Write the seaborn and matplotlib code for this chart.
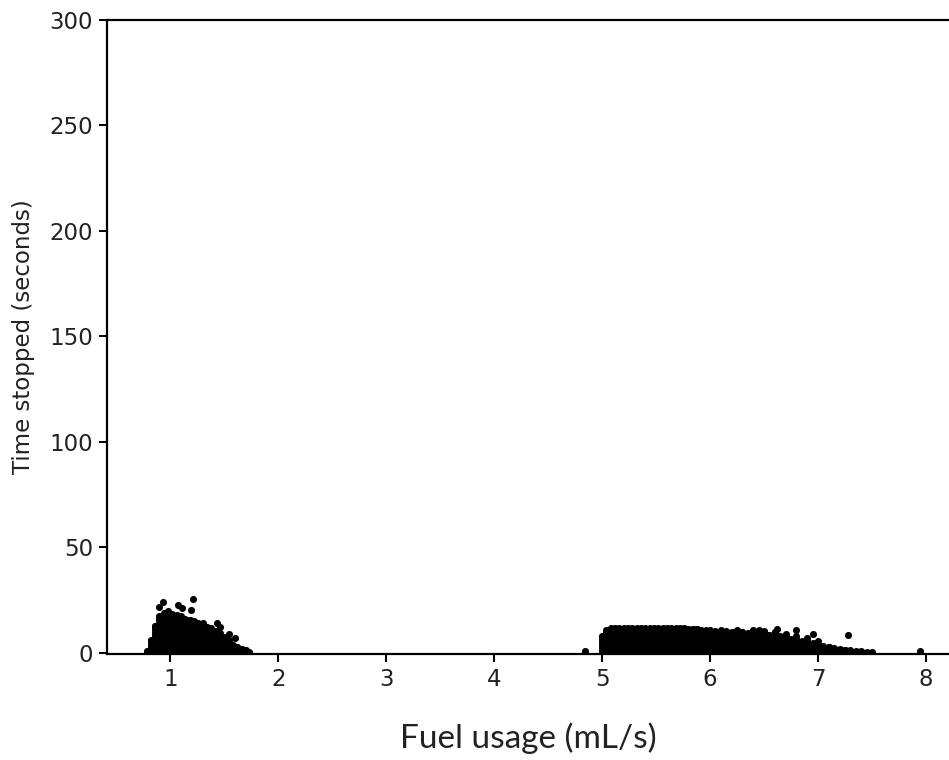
import numpy as np
import pandas as pd
import matplotlib
matplotlib.use("Agg")
import matplotlib.pyplot as plt
import seaborn as sns

# Column envelopes (x position, highest point in that column)
c1_x = [0.78, 0.82, 0.86, 0.90, 0.94, 0.98, 1.02, 1.06, 1.10, 1.14, 1.18, 1.22,
        1.26, 1.30, 1.34, 1.38, 1.42, 1.46, 1.50, 1.54, 1.58, 1.62, 1.66, 1.70, 1.73]
c1_top = [1, 6, 13, 17.5, 19, 20, 18.5, 18, 17.5, 16, 15.5, 15,
          14, 14, 12.5, 12, 10.5, 9.5, 7.5, 6, 4, 3, 2, 1.2, 0.5]

c2_x = [5.00, 5.04, 5.08, 5.12, 5.16, 5.20, 5.24, 5.28, 5.32, 5.36, 5.40, 5.44,
        5.48, 5.52, 5.56, 5.60, 5.64, 5.68, 5.72, 5.76, 5.80, 5.84, 5.88, 5.92,
        5.96, 6.00, 6.05, 6.10, 6.15, 6.20, 6.25, 6.30, 6.35, 6.40, 6.45, 6.50,
        6.55, 6.60, 6.65, 6.70, 6.75, 6.80, 6.85, 6.90, 6.95, 7.00, 7.05, 7.10,
        7.15, 7.20, 7.25, 7.30, 7.35, 7.40, 7.45, 7.50]
c2_top = [8, 11, 12, 12, 12, 12, 12, 12, 12, 12, 12, 12,
          12, 12, 12, 12, 12, 12, 12, 12, 11.5, 11.5, 11.5, 11,
          11, 11, 10.5, 11, 10.5, 10, 11, 10, 9.5, 11, 9.5, 10.5,
          8.5, 10, 8, 9, 6.5, 8, 5.5, 7, 4.5, 5.5, 3.5, 3,
          2.5, 2, 1.5, 1.2, 1, 0.8, 0.6, 0.5]

# Scattered individual points
out_x = [0.90, 0.935, 1.07, 1.21, 1.19, 1.11, 1.43, 1.46, 1.54, 1.60, 4.84, 7.28, 7.94, 6.80, 6.95, 6.62, 6.45]
out_y = [22, 24, 22.5, 25.5, 20.5, 21.5, 14, 12.5, 9, 7, 1, 8.5, 1, 11, 9, 11.5, 11]

step = 1.4
xs, ys = [], []
for cx, ct in zip(c1_x + c2_x, c1_top + c2_top):
    col = np.arange(0, ct + 1e-9, step)
    if len(col) == 0 or col[-1] < ct:
        col = np.append(col, ct)
    xs.extend([cx] * len(col))
    ys.extend(col.tolist())
xs.extend(out_x)
ys.extend(out_y)
df = pd.DataFrame({"fuel": xs, "time": ys})

sns.set_style("ticks")
plt.rcParams['font.family'] = 'sans-serif'
plt.rcParams['font.sans-serif'] = ['DejaVu Sans']

fig = plt.figure(figsize=(9.49, 7.60), dpi=100)
ax = fig.add_axes([107 / 949, 106 / 760, (949 - 107) / 949, 634 / 760])
sns.scatterplot(data=df, x="fuel", y="time", ax=ax, color="black", s=26,
                linewidth=0, legend=False)

ax.set_xlim(0.414, 8.213)
ax.set_ylim(-0.5, 300)
ax.set_xticks([1, 2, 3, 4, 5, 6, 7, 8])
ax.set_yticks([0, 50, 100, 150, 200, 250, 300])
ax.tick_params(labelsize=16.5, length=6, width=1.4, colors="black", pad=4)
for lab in ax.get_xticklabels() + ax.get_yticklabels():
    lab.set_fontfamily("DejaVu Sans")
    lab.set_color("#222222")
for sp in ax.spines.values():
    sp.set_linewidth(1.6)
    sp.set_color("black")
ax.spines["right"].set_visible(False)

ax.set_ylabel("Time stopped (seconds)", fontsize=16.5, family="DejaVu Sans",
              color="#222222", labelpad=10)
ax.set_xlabel("Fuel usage (mL/s)", fontsize=24, family=["Lato", "DejaVu Sans"],
              color="#222222", labelpad=23)

fig.savefig("out.png", dpi=100)
